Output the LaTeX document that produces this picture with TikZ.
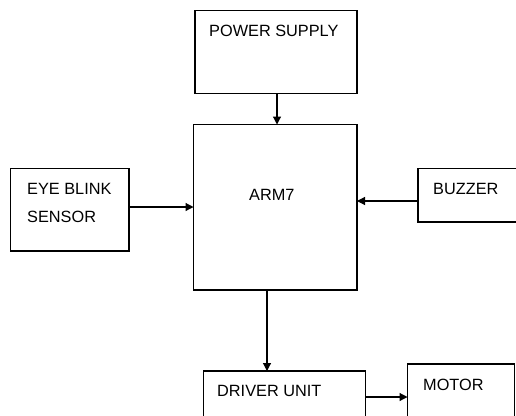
\documentclass[tikz,border=0pt]{standalone}
\usepackage{fontspec}
\setmainfont{Liberation Sans}
\usetikzlibrary{arrows.meta}
\begin{document}
\begin{tikzpicture}[x=1pt,y=-1pt,
  box/.style={draw,line width=1.2pt,inner sep=0pt,outer sep=0pt,anchor=north west},
  lbl/.style={anchor=base west,inner sep=0pt,font=\fontsize{16.3}{19}\selectfont},
  arr/.style={line width=1.2pt,-{Triangle[length=8pt,width=8pt]}}]
\useasboundingbox (0,0) rectangle (516,415);
\fill[white] (0,0) rectangle (516,415);
\node[box,minimum width=162pt,minimum height=83pt] (ps) at (195,10.5) {};
\node[box,minimum width=163.5pt,minimum height=165.5pt] (arm) at (193.5,124.5) {};
\node[box,minimum width=118.5pt,minimum height=82.5pt] (eye) at (10.5,168.5) {};
\node[box,minimum width=120pt,minimum height=53.5pt] (buz) at (418,168.5) {};
\node[box,minimum width=162pt,minimum height=60pt] (drv) at (203.5,371) {};
\node[box,minimum width=107pt,minimum height=70pt] (mot) at (407.5,364) {};
\node[lbl] (tps) at (209,36.5) {POWER SUPPLY};
\node[lbl] (tarm) at (249,200) {ARM7};
\node[lbl] (teye1) at (27,194) {EYE BLINK};
\node[lbl] (teye2) at (27,222) {SENSOR};
\node[lbl] (tbuz) at (433,194) {BUZZER};
\node[lbl] (tdrv) at (217,396.5) {DRIVER UNIT};
\node[lbl] (tmot) at (423,390) {MOTOR};
\draw[arr] (ps.south -| 277,0) -- (arm.north -| 277,0);
\draw[arr] (eye.east |- 0,207) -- (arm.west |- 0,207);
\draw[arr] (buz.west |- 0,201) -- (arm.east |- 0,201);
\draw[arr] (arm.south -| 267,0) -- (drv.north -| 267,0);
\draw[arr] (drv.east |- 0,397) -- (mot.west |- 0,397);
\end{tikzpicture}
\end{document}
